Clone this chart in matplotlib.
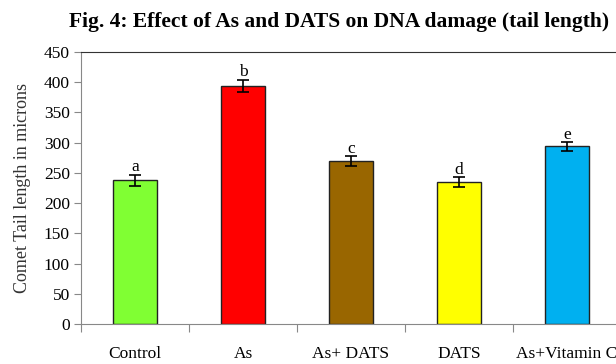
import numpy as np
import matplotlib.pyplot as plt

groups = ['Control', 'As', 'As+ DATS', 'DATS', 'As+Vitamin C']
tail_length = [238, 394, 270, 235, 294]
errors = [9, 10, 8, 8, 7]
letters = ['a', 'b', 'c', 'd', 'e']
colors = ['#80FF33', '#FF0000', '#996600', '#FFFF00', '#00B0F0']

plt.rcParams['font.family'] = ['Liberation Serif', 'DejaVu Serif']

fig = plt.figure(figsize=(6.16, 3.64), dpi=100)
ax = fig.add_axes([81/616, 40/364, 540/616, 272/364])

x = np.arange(len(groups))
ax.bar(x, tail_length, width=0.4, color=colors, edgecolor='#222222', linewidth=1.0, zorder=2)
ax.errorbar(x, tail_length, yerr=errors, fmt='none', ecolor='black', elinewidth=1.2,
            capsize=4, capthick=1.2, zorder=3)
for xi, v, e, t in zip(x, tail_length, errors, letters):
    ax.text(xi, v + e - 1, t, ha='center', va='bottom', fontsize=12.5)

ax.set_xlim(-0.5, len(groups) - 0.5)
ax.set_ylim(0, 450)
ax.set_yticks(np.arange(0, 451, 50))
ax.tick_params(axis='y', labelsize=12.5, length=5, color='#888888', pad=3)
ax.set_xticks(np.arange(-0.5, len(groups) - 0.4, 1))
ax.set_xticklabels([])
ax.set_xticks(x, minor=True)
ax.set_xticklabels(groups, minor=True, fontsize=12.5)
ax.tick_params(axis='x', which='major', length=6, color='#888888', direction='out')
ax.tick_params(axis='x', which='minor', length=0, pad=16)

ax.set_ylabel('Comet Tail length in microns', fontsize=13, color='#333333', labelpad=9)
fig.text(339/616, 1 - 27/364, 'Fig. 4: Effect of As and DATS on DNA damage (tail length)',
         ha='center', va='baseline', fontsize=15.5, fontweight='bold')

for s in ['left', 'bottom']:
    ax.spines[s].set_color('#888888')
ax.spines['top'].set_color('#333333')
ax.spines['right'].set_visible(False)

fig.savefig('out.png', dpi=100)
